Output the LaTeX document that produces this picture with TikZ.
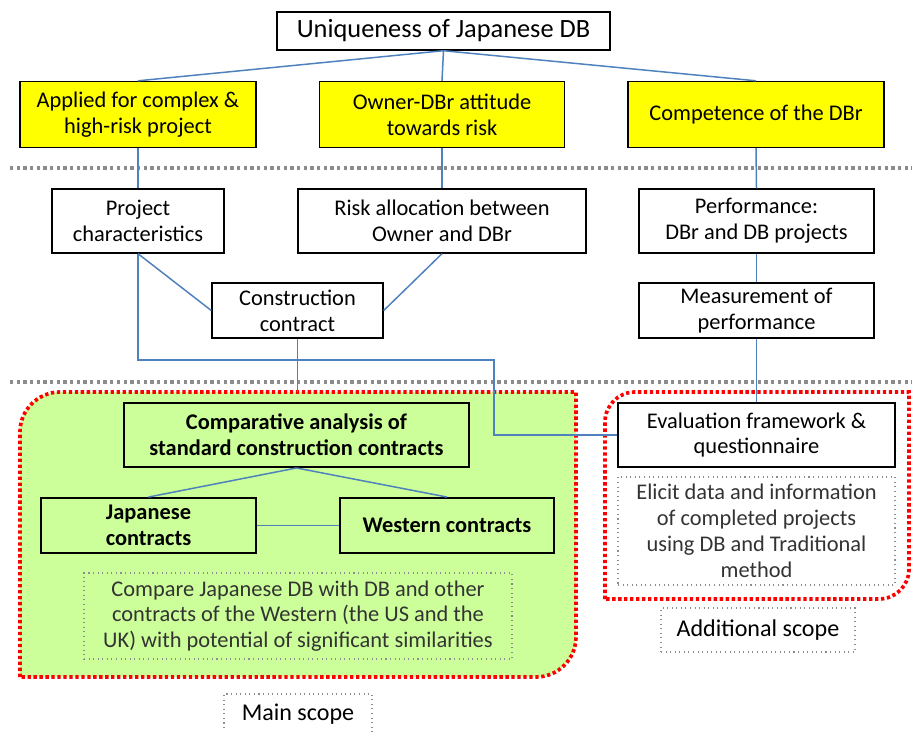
\documentclass[tikz,border=0pt]{standalone}
\usepackage{fontspec}
\setmainfont{Carlito}
\usetikzlibrary{positioning}
\definecolor{linkc}{HTML}{4F81BD}
\definecolor{yelc}{HTML}{FFFF00}
\definecolor{grnc}{HTML}{CCFF99}
\definecolor{redc}{HTML}{FF0000}
\definecolor{sepc}{HTML}{8C8C8C}
\definecolor{notec}{HTML}{333333}

\begin{document}
\begin{tikzpicture}[x=0.02cm,y=-0.02cm,
  font=\fontsize{12.75}{14.7}\selectfont,
  wh/.style 2 args={minimum width=#1*0.02cm,minimum height=#2*0.02cm},
  box/.style={draw=black,line width=0.8pt,align=center,inner sep=1pt},
  ybox/.style={box,fill=yelc},
  gbox/.style={box,fill=grnc,line width=1.1pt,
               font=\fontsize{12.75}{14.7}\selectfont\bfseries},
  note/.style={draw=sepc,dotted,line width=0.6pt,align=center,inner sep=1pt,
               text=notec},
  tag/.style={note,text=black,font=\fontsize{13.7}{15.5}\selectfont},
  link/.style={draw=linkc,line width=0.85pt},
  sep/.style={draw=sepc,line width=1.9pt,dash pattern=on 1.9pt off 1.9pt},
  region/.style={draw=redc,line width=2.1pt,dash pattern=on 1.9pt off 1.5pt},
]
\useasboundingbox (0,0) rectangle (912,731);

% scope regions
\path[region,fill=grnc] (20,677) -- (20,432) arc[start angle=180,end angle=90,radius=0.8cm]
  -- (576,392) -- (576,637) arc[start angle=0,end angle=-90,radius=0.8cm] -- cycle;
\path[region] (605,599) -- (605,422) arc[start angle=180,end angle=90,radius=0.6cm]
  -- (909,392) -- (909,569) arc[start angle=0,end angle=-90,radius=0.6cm] -- cycle;

% separators
\draw[sep] (10,168) -- (912,168);
\draw[sep] (10,382) -- (912,382);

% top levels
\node[box,wh={333}{38},font=\fontsize{15}{17}\selectfont] (uniq) at (443.5,31) {Uniqueness of Japanese DB};
\node[ybox,wh={236}{66}] (app)  at (138,114.5) {Applied for complex \&\\high-risk project};
\node[ybox,wh={245}{66}] (att)  at (442,114.5) {Owner-DBr attitude\\towards risk};
\node[ybox,wh={256}{66}] (comp) at (756,114.5) {Competence of the DBr};

\node[box,wh={172}{64}] (pc)   at (138,221)   {Project\\characteristics};
\node[box,wh={288}{64}] (ra)   at (442,221)   {Risk allocation between\\Owner and DBr};
\node[box,wh={235}{64}] (perf) at (756.5,221) {Performance:\\DBr and DB projects};
\node[box,wh={171}{55}] (cc)   at (297.5,310.5) {Construction\\contract};
\node[box,wh={235}{55}] (meas) at (756.5,310.5) {Measurement of\\performance};

% main scope
\node[gbox,wh={345}{64}] (cmp)  at (296.5,435)  {Comparative analysis of\\standard construction contracts};
\node[gbox,wh={215}{55}] (jap)  at (148.5,525.5) {Japanese\\contracts};
\node[gbox,wh={214}{55}] (west) at (447,525.5)  {Western contracts};
\node[note,wh={428}{86}] (cmpnote) at (298,616)
  {Compare Japanese DB with DB and other\\contracts of the Western (the US and the\\UK) with potential of significant similarities};
\node[tag,wh={148}{41}] (mains) at (298,714.5) {Main scope};

% additional scope
\node[box,wh={277}{64}] (eval) at (756.5,435) {Evaluation framework \&\\questionnaire};
\node[note,wh={277}{108}] (elicit) at (756.5,531)
  {Elicit data and information\\of completed projects\\using DB and Traditional\\method};
\node[tag,wh={194}{44}] (addl) at (758,630) {Additional scope};

% connectors
\coordinate (mtop) at (297.5,392);
\coordinate (bend) at (494,360);
\foreach \t in {app,att,comp} { \draw[link] (uniq.south) -- (\t.north); }
\draw[link] (app.south) -- (pc.north);
\draw[link] (att.south) -- (ra.north);
\draw[link] (comp.south) -- (perf.north);
\draw[link] (perf.south) -- (meas.north);
\draw[link] (meas.south) -- (eval.north);
\draw[link] (pc.south) -- (cc.west);
\draw[link] (ra.south) -- (cc.east);
\draw[link] (cc.south) -- (mtop);
\draw[link] (pc.south) |- (bend) |- (eval.west);
\draw[link] (cmp.south) -- (jap.north);
\draw[link] (cmp.south) -- (west.north);
\draw[link] (jap.east) -- (west.west);
\end{tikzpicture}
\end{document}
